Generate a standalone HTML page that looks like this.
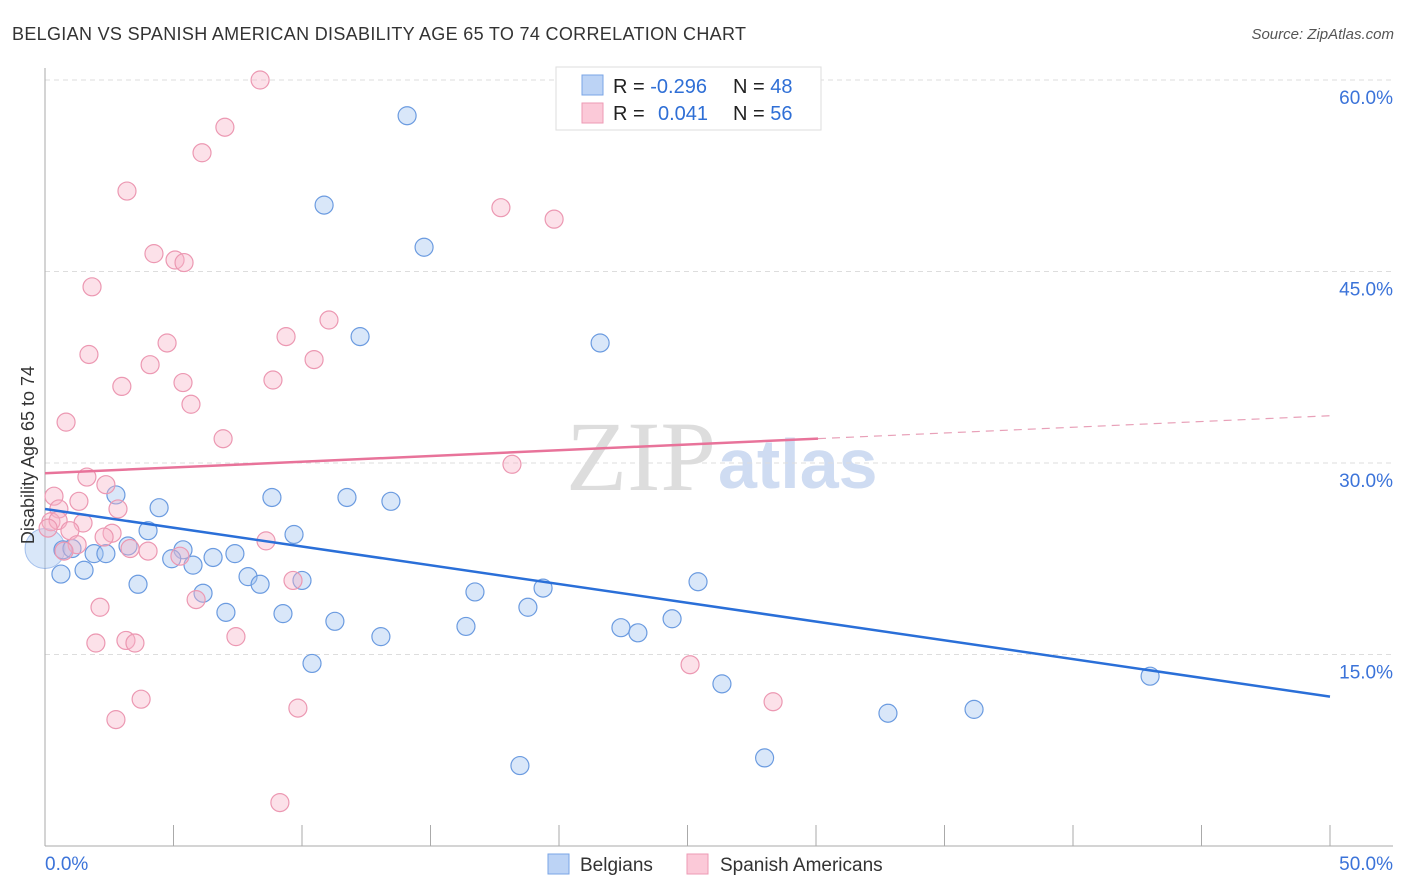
<!DOCTYPE html>
<html><head><meta charset="utf-8"><style>
body{margin:0;background:#fff;font-family:"Liberation Sans",sans-serif}
svg{display:block}
</style></head><body>
<svg id="chart" width="1406" height="892">
<text x="12" y="40" font-size="18" fill="#333" textLength="734">BELGIAN VS SPANISH AMERICAN DISABILITY AGE 65 TO 74 CORRELATION CHART</text>
<text x="1394" y="39" font-size="15" fill="#555" font-style="italic" text-anchor="end">Source: ZipAtlas.com</text>
<text x="716" y="490" font-size="100" fill="#ddd" font-family="Liberation Serif,serif" text-anchor="end">ZIP</text>
<text x="718" y="488" font-size="70" fill="#cfdcf2" font-weight="bold">atlas</text>
<g id="grid"></g><g id="axes"></g><g id="pts"></g><g id="lines"></g>
<text transform="translate(34,455) rotate(-90)" font-size="18" fill="#333" text-anchor="middle">Disability Age 65 to 74</text>
<g>
<rect x="556" y="67" width="265" height="63" fill="#fff" stroke="#ddd"/>
<rect x="582" y="75" width="21" height="20" fill="#bcd3f5" stroke="#7aa5e6"/>
<rect x="582" y="103" width="21" height="20" fill="#fbc9d8" stroke="#ee9ab4"/>
<text x="613" y="93" font-size="20" fill="#222">R = <tspan fill="#2f6fd6">-0.296</tspan><tspan x="733">N = </tspan><tspan fill="#2f6fd6">48</tspan></text>
<text x="613" y="120" font-size="20" fill="#222">R = <tspan x="658" fill="#2f6fd6">0.041</tspan><tspan x="733">N = </tspan><tspan fill="#2f6fd6">56</tspan></text>
</g>
<g>
<rect x="548" y="854" width="21" height="20" fill="#bcd3f5" stroke="#7aa5e6"/>
<text x="580" y="871" font-size="19" fill="#333">Belgians</text>
<rect x="687" y="854" width="21" height="20" fill="#fbc9d8" stroke="#ee9ab4"/>
<text x="720" y="871" font-size="19" fill="#333">Spanish Americans</text>
</g>
</svg>
<script>
const yTicks=[15,30,45,60];
const yTickLabels=["15.0%","30.0%","45.0%","60.0%"];
const xTickLabels=["0.0%","50.0%"];
const blueX=[14.09,10.86,14.75,12.26,21.6,2.76,4.44,8.83,11.75,13.46,4.01,9.69,0.7,1.05,1.91,2.37,3.23,5.37,4.93,6.54,7.39,5.76,0.62,1.52,7.9,8.37,10.0,3.62,6.15,7.04,9.26,11.28,13.07,16.73,19.38,18.79,16.38,22.41,23.07,24.4,25.41,10.39,26.34,32.8,36.15,43.0,18.48,28.0];
const blueY=[57.2,50.2,46.9,39.9,39.4,27.5,26.5,27.3,27.3,27.0,24.7,24.4,23.2,23.3,22.9,22.9,23.5,23.2,22.5,22.6,22.9,22.0,21.3,21.6,21.1,20.5,20.8,20.5,19.8,18.3,18.2,17.6,16.4,19.9,20.2,18.7,17.2,17.1,16.7,17.8,20.7,14.3,12.7,10.4,10.7,13.3,6.3,6.9];
const pinkX=[8.37,7.0,6.11,3.19,17.74,19.81,4.24,5.06,5.41,1.83,11.05,4.75,9.38,1.71,10.47,4.09,2.99,5.37,8.87,5.68,0.82,6.93,18.17,1.63,0.35,2.37,1.32,0.54,2.84,0.23,0.51,1.48,0.97,0.12,2.61,2.3,1.25,3.31,4.01,0.74,5.25,8.6,9.65,5.88,2.14,7.43,3.15,3.5,1.98,25.1,3.74,28.33,9.84,2.76,9.14];
const pinkY=[60.0,56.3,54.3,51.3,50.0,49.1,46.4,45.9,45.7,43.8,41.2,39.4,39.9,38.5,38.1,37.7,36.0,36.3,36.5,34.6,33.2,31.9,29.9,28.9,27.4,28.3,27.0,26.4,26.4,25.4,25.5,25.3,24.7,24.9,24.5,24.2,23.6,23.3,23.1,23.1,22.7,23.9,20.8,19.3,18.7,16.4,16.1,15.9,15.9,14.2,11.5,11.3,10.8,9.9,3.4];
const blueTrend=[26.4,11.7];
const pinkTrend=[29.2,33.7];
const X=v=>45+v/50*1285, Y=v=>846-v/15*191.5;
const NS="http://www.w3.org/2000/svg";
function mk(p,t,a){const e=document.createElementNS(NS,t);for(const k in a)e.setAttribute(k,a[k]);document.getElementById(p).appendChild(e);return e;}
yTicks.forEach((t,i)=>{
 const g=mk('grid','line',{x1:45,x2:1393,y1:Y(t),y2:Y(t),stroke:'#ddd','stroke-dasharray':'5,4'});
 
 
 const l=mk('grid','text',{x:1393,y:Y(t)+24,'font-size':19,fill:'#3b73d9','text-anchor':'end'});
 l.textContent=yTickLabels[i];
 
 
});
const ya=mk('axes','line',{x1:45,x2:45,y1:68,y2:846,stroke:'#aaa'});


const xa=mk('axes','line',{x1:45,x2:1393,y1:846,y2:846,stroke:'#aaa'});


for(let i=0;i<=10;i++){const t=mk('axes','line',{x1:X(i*5),x2:X(i*5),y1:825,y2:846,stroke:'#aaa'});
 
 }
[[0,45,'start'],[50,1393,'end']].forEach((d,i)=>{const l=mk('axes','text',{x:d[1],y:870,'font-size':19,fill:'#3b73d9','text-anchor':d[2]});l.textContent=xTickLabels[i];
 
 });
const big=mk('pts','circle',{cx:X(0),cy:Y(23.3),r:20,fill:'rgba(160,195,240,0.4)',stroke:'rgba(90,140,220,0.5)'});


blueX.forEach((x,i)=>{const c=mk('pts','circle',{cx:X(x),cy:Y(blueY[i]),r:9,fill:'rgba(160,195,240,0.4)',stroke:'#6b9be0','stroke-width':1.2});
 
 });
pinkX.forEach((x,i)=>{const c=mk('pts','circle',{cx:X(x),cy:Y(pinkY[i]),r:9,fill:'rgba(248,180,200,0.4)',stroke:'#ec98b2','stroke-width':1.2});
 
 });
const bl=mk('lines','line',{x1:X(0),y1:Y(blueTrend[0]),x2:X(50),y2:Y(blueTrend[1]),stroke:'#2a6fd8','stroke-width':2.5});


const px=(818-45)/1285*50;
const py=pinkTrend[0]+(pinkTrend[1]-pinkTrend[0])*px/50;
const pl=mk('lines','line',{x1:X(0),y1:Y(pinkTrend[0]),x2:X(px),y2:Y(py),stroke:'#e8739a','stroke-width':2.5});


const pd=mk('lines','line',{x1:X(px),y1:Y(py),x2:X(50),y2:Y(pinkTrend[1]),stroke:'#e8a0b8','stroke-width':1.2,'stroke-dasharray':'8,6'});


</script>
</body></html>
